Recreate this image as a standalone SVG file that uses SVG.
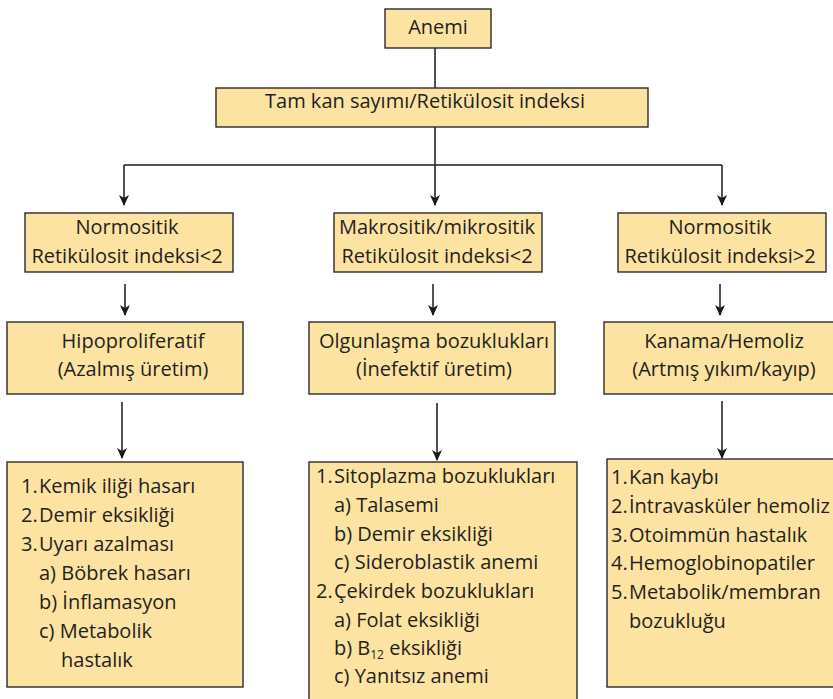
<svg xmlns="http://www.w3.org/2000/svg" width="833" height="699" viewBox="0 0 833 699">
<defs>
<marker id="ah" markerWidth="12" markerHeight="14" refX="10" refY="5" orient="auto" markerUnits="userSpaceOnUse" viewBox="0 0 12 10">
<path d="M0,0 L11,5 L0,10 L3,5 z" fill="#1a1a1a"/>
</marker>
<style>
.box{fill:#FDE3A1;stroke:#2b2b2b;stroke-width:1.4}
.t{font-family:"Open Sans","Liberation Sans",sans-serif;font-size:20px;fill:#231f20}
.c{text-anchor:middle}
.l{font-family:"Open Sans","Liberation Sans",sans-serif;font-size:20px;fill:#231f20}
.ln{fill:none;stroke:#1a1a1a;stroke-width:1.5}
.ar{fill:none;stroke:#1a1a1a;stroke-width:1.5;marker-end:url(#ah)}
</style>
</defs>
<rect width="833" height="699" fill="#ffffff"/>
<g id="connectors">
<line class="ln" x1="435" y1="48" x2="435" y2="88"/>
<line class="ar" x1="435" y1="127" x2="435" y2="205"/>
<line class="ln" x1="124" y1="165" x2="722" y2="165"/>
<line class="ar" x1="124" y1="165" x2="124" y2="205"/>
<line class="ar" x1="722" y1="165" x2="722" y2="205"/>
<line class="ar" x1="125" y1="284" x2="125" y2="315"/>
<line class="ar" x1="433" y1="284" x2="433" y2="315"/>
<line class="ar" x1="720" y1="284" x2="720" y2="315"/>
<line class="ar" x1="122" y1="402" x2="122" y2="458"/>
<line class="ar" x1="437" y1="403" x2="437" y2="460"/>
<line class="ar" x1="722" y1="401" x2="722" y2="458"/>
</g>
<g id="anemi">
<rect class="box" x="385" y="9" width="106" height="39"/>
<text class="t c" x="438" y="34">Anemi</text>
</g>
<g id="tamkan">
<rect class="box" x="216" y="88" width="432" height="39"/>
<text class="t c" x="425" y="108">Tam kan sayımı/Retikülosit indeksi</text>
</g>
<g id="normo1">
<rect class="box" x="25" y="213" width="208" height="59"/>
<text class="t c" x="127" y="234">Normositik</text>
<text class="t c" x="127" y="263">Retikülosit indeksi&lt;2</text>
</g>
<g id="makro">
<rect class="box" x="334" y="213" width="208" height="59"/>
<text class="t c" x="437" y="234">Makrositik/mikrositik</text>
<text class="t c" x="437" y="263">Retikülosit indeksi&lt;2</text>
</g>
<g id="normo2">
<rect class="box" x="618" y="213" width="208" height="59"/>
<text class="t c" x="720" y="234">Normositik</text>
<text class="t c" x="720" y="263">Retikülosit indeksi&gt;2</text>
</g>
<g id="hipo">
<rect class="box" x="7" y="322" width="236" height="72"/>
<text class="t c" x="133" y="348">Hipoproliferatif</text>
<text class="t c" x="133" y="376">(Azalmış üretim)</text>
</g>
<g id="olgun">
<rect class="box" x="309" y="322" width="246" height="72"/>
<text class="t c" x="434" y="348">Olgunlaşma bozuklukları</text>
<text class="t c" x="434" y="376">(İnefektif üretim)</text>
</g>
<g id="kanama">
<rect class="box" x="604" y="322" width="240" height="72"/>
<text class="t c" x="724" y="348">Kanama/Hemoliz</text>
<text class="t c" x="724" y="376">(Artmış yıkım/kayıp)</text>
</g>
<g id="list1">
<rect class="box" x="7" y="462" width="236" height="225"/>
<text class="l" x="21" y="493">1.</text><text class="l" x="39" y="493">Kemik iliği hasarı</text>
<text class="l" x="21" y="522">2.</text><text class="l" x="39" y="522">Demir eksikliği</text>
<text class="l" x="21" y="551">3.</text><text class="l" x="39" y="551">Uyarı azalması</text>
<text class="l" x="39" y="580">a) Böbrek hasarı</text>
<text class="l" x="39" y="609">b) İnflamasyon</text>
<text class="l" x="39" y="638">c) Metabolik</text>
<text class="l" x="61" y="667">hastalık</text>
</g>
<g id="list2">
<rect class="box" x="309" y="462" width="268" height="240"/>
<text class="l" x="316" y="483">1.</text><text class="l" x="334" y="483">Sitoplazma bozuklukları</text>
<text class="l" x="334" y="512">a) Talasemi</text>
<text class="l" x="334" y="541">b) Demir eksikliği</text>
<text class="l" x="334" y="569">c) Sideroblastik anemi</text>
<text class="l" x="316" y="598">2.</text><text class="l" x="334" y="598">Çekirdek bozuklukları</text>
<text class="l" x="334" y="627">a) Folat eksikliği</text>
<text class="l" x="334" y="655">b) B<tspan font-size="12" dy="4">12</tspan><tspan dy="-4"> eksikliği</tspan></text>
<text class="l" x="334" y="683">c) Yanıtsız anemi</text>
</g>
<g id="list3">
<rect class="box" x="607" y="459" width="240" height="228"/>
<text class="l" x="611" y="484">1.</text><text class="l" x="629" y="484">Kan kaybı</text>
<text class="l" x="611" y="513">2.</text><text class="l" x="629" y="513">İntravasküler hemoliz</text>
<text class="l" x="611" y="542">3.</text><text class="l" x="629" y="542">Otoimmün hastalık</text>
<text class="l" x="611" y="570">4.</text><text class="l" x="629" y="570">Hemoglobinopatiler</text>
<text class="l" x="611" y="599">5.</text><text class="l" x="629" y="599">Metabolik/membran</text>
<text class="l" x="629" y="628">bozukluğu</text>
</g>
</svg>
